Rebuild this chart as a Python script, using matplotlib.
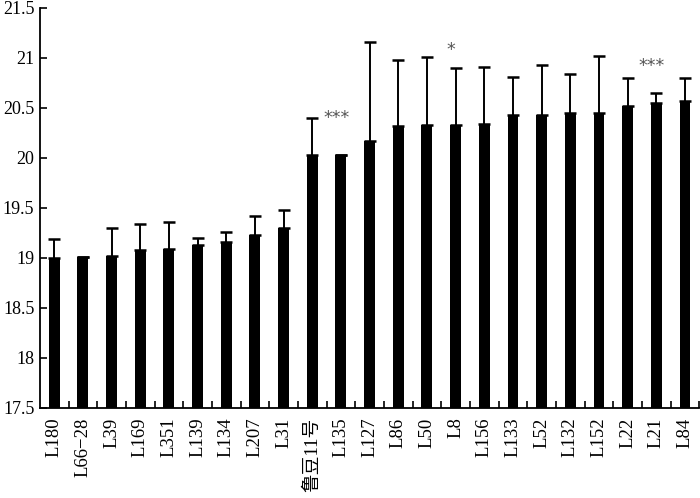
import matplotlib
matplotlib.use("Agg")
import matplotlib.pyplot as plt
import numpy as np

plt.rcParams['font.family'] = ['Liberation Serif', 'Noto Sans CJK SC', 'DejaVu Sans']

lines = ['L180', 'L66\u221228', 'L39', 'L169', 'L351', 'L139', 'L134', 'L207', 'L31',
         '鲁豆11号', 'L135', 'L127', 'L86', 'L50', 'L8', 'L156', 'L133', 'L52',
         'L132', 'L152', 'L22', 'L21', 'L84']
means = [19.00, 19.01, 19.02, 19.08, 19.09, 19.13, 19.16, 19.23, 19.30,
         20.03, 20.03, 20.17, 20.32, 20.33, 20.33, 20.34, 20.43, 20.43,
         20.45, 20.45, 20.52, 20.55, 20.57]
errs = [0.19, 0.0, 0.28, 0.26, 0.27, 0.07, 0.10, 0.19, 0.18,
        0.37, 0.0, 0.99, 0.66, 0.68, 0.57, 0.57, 0.38, 0.50,
        0.39, 0.57, 0.28, 0.10, 0.23]

# significance marks: (line, height, label)
sig_lines = ['L135', 'L8', 'L21']
sig_y = [20.40, 21.08, 20.92]
sig_text = ['***', '*', '***']

fig = plt.figure(figsize=(7, 4.98), dpi=100)
ax = fig.add_axes([0.057, 0.181, 0.942, 0.803])

x = np.arange(len(lines))
ax.bar(x, means, width=0.38, color='black', zorder=2)
lower = np.zeros(len(errs))
ax.errorbar(x, means, yerr=[lower, errs], fmt='none', ecolor='black',
            elinewidth=1.4, capsize=4.2, capthick=1.8, zorder=3)

for name, y, t in zip(sig_lines, sig_y, sig_text):
    i = lines.index(name)
    ax.text(i - 0.15, y, t, ha='center', va='center', fontsize=12.5,
            family='DejaVu Sans', color='#555555')

ax.set_xlim(-0.5, len(lines) - 0.5)
ax.set_ylim(17.5, 21.5)
ax.set_yticks(np.arange(17.5, 21.51, 0.5))
ax.set_yticklabels(['17.5', '18', '18.5', '19', '19.5', '20', '20.5', '21', '21.5'])
ax.set_xticks(x)
ax.set_xticklabels(lines, rotation=90, fontsize=13.5)
ax.set_xticks(np.arange(0.5, len(lines), 1), minor=True)
ax.tick_params(axis='x', which='major', length=0, pad=7)
ax.tick_params(axis='x', which='minor', direction='in', length=5, width=1.2)
ax.tick_params(axis='y', direction='in', length=5, width=1.2, labelsize=13, pad=4)

for s in ['top', 'right']:
    ax.spines[s].set_visible(False)
for s in ['left', 'bottom']:
    ax.spines[s].set_linewidth(1.3)

fig.savefig('out.png', dpi=100)
